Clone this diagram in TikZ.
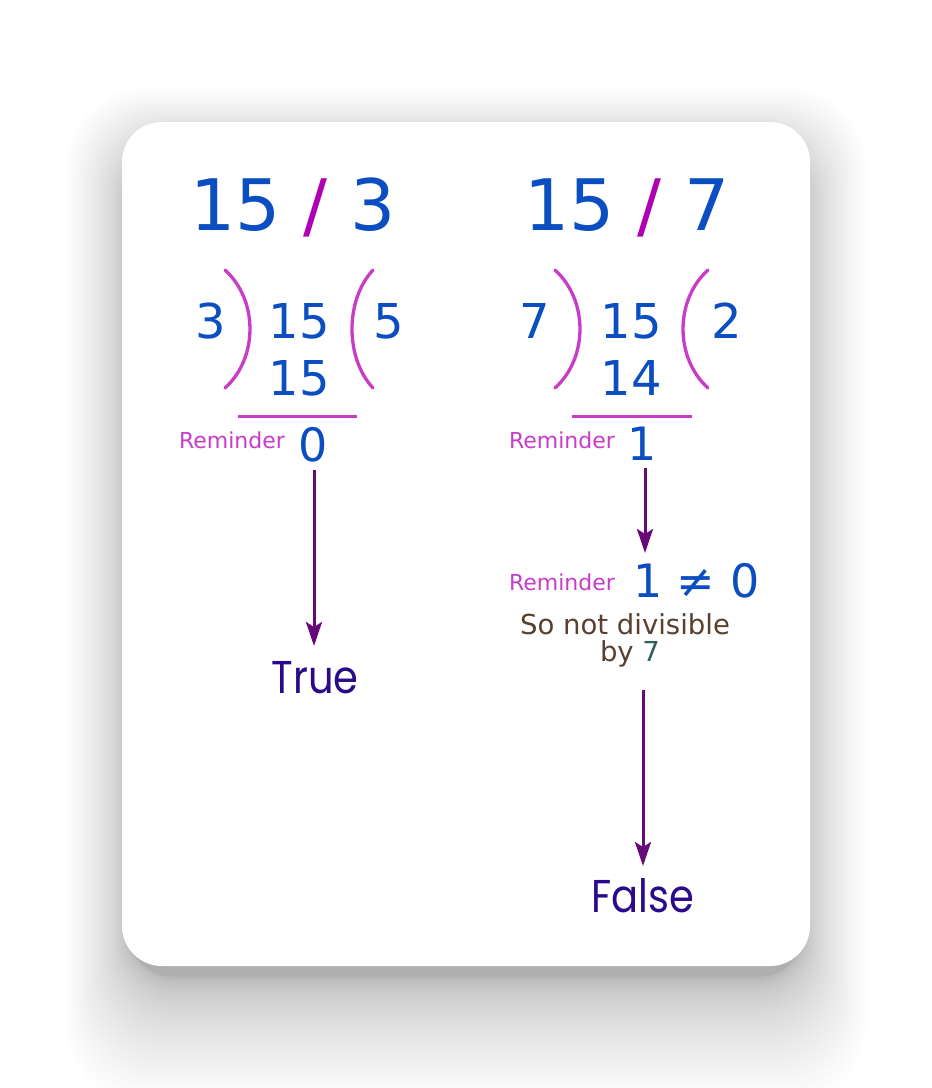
\documentclass[tikz,border=0pt]{standalone}
\usepackage{fontspec}
\usepackage{graphicx}
\setmainfont{DejaVu Sans}
\newfontfamily\tfont{Poppins}
\usetikzlibrary{arrows.meta}
\definecolor{numblue}{HTML}{0A4EC2}
\definecolor{mag}{HTML}{C83CC8}
\definecolor{slashc}{HTML}{B000B4}
\definecolor{arrc}{HTML}{660A7A}
\definecolor{tfc}{HTML}{2A0A8A}
\definecolor{brownc}{HTML}{5A3F2F}
\definecolor{tealc}{HTML}{2F5F5F}
\tikzset{
  txt/.style={inner sep=0pt, outer sep=0pt, anchor=base},
  big/.style={txt, text=numblue, font=\fontsize{71}{80}\selectfont},
  dig/.style={txt, text=numblue, font=\fontsize{48}{56}\selectfont},
  rem/.style={txt, text=mag, font=\fontsize{22}{26}\selectfont},
  res/.style={txt, text=numblue, font=\fontsize{46}{52}\selectfont},
  tf/.style={txt, text=tfc, font=\tfont\fontsize{46}{52}\selectfont},
  brk/.style={draw=mag, line width=3.3pt, line cap=round},
  bar/.style={draw=mag, line width=3pt},
  flow/.style={draw=arrc, line width=3pt, -{Stealth[length=24pt,width=16pt,inset=5pt]}},
  note/.style={txt, text=brownc, font=\fontsize{27.5}{32}\selectfont}
}
\begin{document}
\begin{tikzpicture}[x=1pt,y=-1pt]
\useasboundingbox (0,0) rectangle (932,1088);
\fill[white] (0,0) rectangle (932,1088);
% shadow
\foreach \i in {1,...,40}{
  \pgfmathsetmacro{\h}{0.04*\i*\i-8}
  \pgfmathsetmacro{\v}{0.08*\i*\i+10}
  \pgfmathsetmacro{\t}{30-0.04*\i*\i}
  \pgfmathsetmacro{\rr}{40+\i}
  \fill[black, opacity=0.009, rounded corners=\rr pt]
    (122-\h, 122+\t) rectangle (810+\h, 966+\v);
}
% card
\fill[white, rounded corners=40pt] (122,122) rectangle (810,966);

% ---- left column
\node[big] (t1) at (293,230) {15 {\color{slashc}/} 3};
\node[dig] (d1) at (211,338) {3};
\node[dig] (n1) at (299.5,338) {15};
\node[dig] (q1) at (388.5,338) {5};
\node[dig] (p1) at (299.5,395) {15};
\draw[brk] (225,270) .. controls (258.3,300) and (258.3,358) .. (225,388);
\draw[brk] (373,270) .. controls (345,300) and (345,358) .. (373,388);
\coordinate (l1a) at (238,416);
\coordinate (l1b) at (357,416);
\draw[bar] (l1a) -- (l1b);
\node[rem] (r1) at (232,448) {Reminder};
\node[res] (z1) at (313.5,461) {0};
\node[tf] (tr) at (315,693) {\scalebox{0.87}[1]{True}};
\draw[flow] (314,470) -- (314,646);

% ---- right column
\node[big] (t2) at (627,230) {15 {\color{slashc}/} 7};
\node[dig] (d2) at (534.5,338) {7};
\node[dig] (n2) at (631.5,338) {15};
\node[dig] (q2) at (726.5,338) {2};
\node[dig] (p2) at (631.5,395) {14};
\draw[brk] (555,270) .. controls (588.3,300) and (588.3,358) .. (555,388);
\draw[brk] (708,270) .. controls (674.7,300) and (674.7,358) .. (708,388);
\coordinate (l2a) at (572,416);
\coordinate (l2b) at (692,416);
\draw[bar] (l2a) -- (l2b);
\node[rem] (r2) at (562,448) {Reminder};
\node[res] (o2) at (642,460) {1};
\draw[flow] (645,468) -- (645,553);
\node[rem] (r3) at (562,590) {Reminder};
\node[res, anchor=base west] (ne) at (633,597) {1 ≠ 0};
\node[note] (s1) at (625,634) {So not divisible};
\node[note] (s2) at (630,661) {by {\color{tealc}7}};
\draw[flow] (643,690) -- (643,866);
\node[tf] (fa) at (643,912) {\scalebox{0.87}[1]{False}};
\end{tikzpicture}
\end{document}
